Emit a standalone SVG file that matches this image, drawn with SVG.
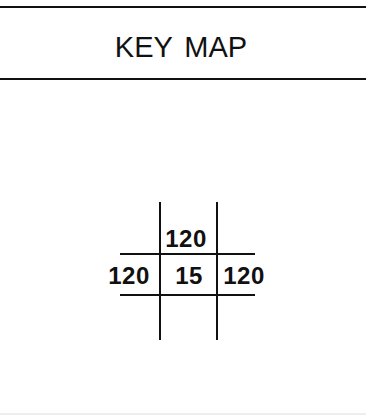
<svg xmlns="http://www.w3.org/2000/svg" width="366" height="415" viewBox="0 0 366 415">
<style>
.ln{stroke:#111;stroke-width:2;fill:none}
.t{font-family:"Liberation Sans",Arial,sans-serif;fill:#111}
.n{font-size:24px;font-weight:bold;letter-spacing:0.5px}
</style>
<rect width="366" height="415" fill="#fff"/>
<g id="title">
<line class="ln" x1="0" y1="7" x2="366" y2="7"/>
<line class="ln" x1="0" y1="79" x2="366" y2="79"/>
<text class="t" x="181" y="57" font-size="29" text-anchor="middle" word-spacing="4">KEY MAP</text>
</g>
<g id="connectors">
<line class="ln" x1="160" y1="202" x2="160" y2="340"/>
<line class="ln" x1="217" y1="202" x2="217" y2="340"/>
<line class="ln" x1="120" y1="254" x2="255" y2="254"/>
<line class="ln" x1="120" y1="295" x2="255" y2="295"/>
</g>
<g id="n-top"><text class="t n" x="186" y="247" text-anchor="middle">120</text></g>
<g id="n-left"><text class="t n" x="129" y="284" text-anchor="middle">120</text></g>
<g id="n-center"><text class="t n" x="189" y="284" text-anchor="middle">15</text></g>
<g id="n-right"><text class="t n" x="244" y="284" text-anchor="middle">120</text></g>
<line x1="0" y1="414" x2="366" y2="414" stroke="#ddd" stroke-width="1"/>
</svg>
